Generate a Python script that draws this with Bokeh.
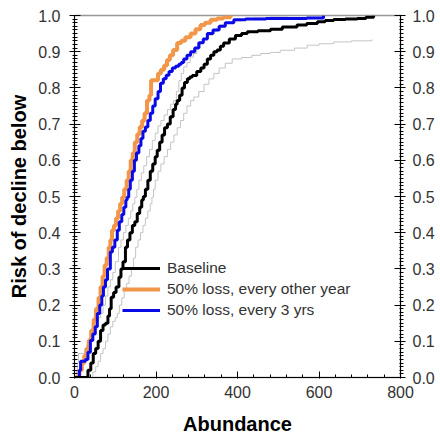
from bokeh.plotting import figure
from bokeh.models import (LinearAxis, SingleIntervalTicker, NumeralTickFormatter,
                          Legend, LegendItem, Range1d)
from bokeh.embed import file_html
from bokeh.resources import INLINE

# ---- data ----
baseline_x = [0, 27, 33, 40, 46, 52, 58, 64, 70, 76, 82, 86, 90, 96, 102, 109, 114, 119, 125, 130,
              136, 142, 148, 154, 160, 165, 169, 174, 180, 186, 192, 198, 203, 209, 215, 221, 228,
              235, 242, 248, 252, 258, 264, 270, 277, 283, 289, 300, 310, 318, 326, 334, 342, 350,
              358, 366, 380, 395, 410, 424, 450, 481, 510, 546, 570, 596, 615, 636, 665, 694, 715, 734]
baseline_y = [0, 0, 0.02, 0.04, 0.066, 0.08, 0.10, 0.13, 0.145, 0.15, 0.17, 0.19, 0.222, 0.235, 0.25,
              0.277, 0.30, 0.32, 0.36, 0.38, 0.40, 0.42, 0.43, 0.453, 0.47, 0.49, 0.50, 0.52, 0.545,
              0.57, 0.59, 0.61, 0.628, 0.65, 0.67, 0.69, 0.70, 0.72, 0.74, 0.755, 0.765, 0.78, 0.80,
              0.815, 0.825, 0.83, 0.834, 0.845, 0.855, 0.865, 0.88, 0.89, 0.90, 0.905, 0.915, 0.924,
              0.935, 0.945, 0.95, 0.955, 0.958, 0.962, 0.968, 0.974, 0.978, 0.983, 0.986, 0.989,
              0.99, 0.992, 0.995, 1.0]

orange_x = [0, 8, 12, 18, 24, 30, 35, 41, 47, 53, 59, 64, 69, 74, 79, 84, 88, 92, 97, 102, 107, 112,
            117, 122, 128, 133, 138, 143, 148, 154, 160, 166, 172, 178, 184, 188, 205, 212, 220, 227,
            234, 242, 252, 262, 272, 285, 297, 309, 320, 334, 350, 365, 383]
orange_y = [0, 0, 0.02, 0.04, 0.06, 0.08, 0.102, 0.13, 0.16, 0.19, 0.22, 0.25, 0.28, 0.31, 0.33,
            0.36, 0.38, 0.407, 0.42, 0.44, 0.46, 0.48, 0.498, 0.52, 0.545, 0.57, 0.60, 0.62, 0.65,
            0.672, 0.692, 0.71, 0.73, 0.765, 0.78, 0.821, 0.84, 0.85, 0.862, 0.877, 0.89, 0.905,
            0.924, 0.93, 0.94, 0.95, 0.962, 0.974, 0.98, 0.988, 0.992, 0.995, 1.0]

blue_x = [0, 7, 12, 15, 27, 33, 39, 45, 51, 56, 62, 67, 71, 76, 81, 88, 93, 99, 105, 110, 116, 121,
          126, 129, 133, 137, 142, 147, 152, 158, 163, 168, 174, 180, 186, 192, 198, 205, 211, 218,
          225, 232, 240, 248, 256, 262, 268, 276, 285, 295, 305, 316, 326, 340, 355, 370, 391, 420,
          470, 520, 570, 611]
blue_y = [0, 0, 0.02, 0.045, 0.05, 0.07, 0.102, 0.12, 0.14, 0.177, 0.20, 0.225, 0.25, 0.27, 0.30,
          0.347, 0.36, 0.38, 0.407, 0.43, 0.45, 0.47, 0.49, 0.498, 0.52, 0.545, 0.57, 0.60, 0.62,
          0.64, 0.66, 0.68, 0.692, 0.71, 0.73, 0.75, 0.77, 0.79, 0.813, 0.825, 0.835, 0.845, 0.855,
          0.86, 0.865, 0.87, 0.88, 0.89, 0.90, 0.91, 0.925, 0.935, 0.95, 0.96, 0.97, 0.98, 0.988,
          0.99, 0.992, 0.992, 0.993, 1.0]

upper_x = [0, 3, 5, 7, 10, 25, 30, 36, 42, 48, 54, 59, 64, 70, 76, 82, 88, 94, 100, 108, 114, 120,
           126, 132, 138, 143, 148, 153, 158, 164, 170, 177, 184, 191, 198, 205, 212, 220, 228, 236,
           243, 250, 256, 262, 268, 276, 284, 292, 300, 309, 318, 328, 338, 348, 358, 372, 390, 410,
           440, 480, 520]
upper_y = [0, 0, 0.02, 0.04, 0.066, 0.08, 0.09, 0.11, 0.125, 0.14, 0.155, 0.165, 0.177, 0.20, 0.225,
           0.25, 0.27, 0.29, 0.32, 0.36, 0.38, 0.40, 0.42, 0.44, 0.46, 0.48, 0.498, 0.52, 0.545,
           0.565, 0.585, 0.61, 0.63, 0.655, 0.675, 0.695, 0.71, 0.725, 0.74, 0.755, 0.765, 0.79,
           0.82, 0.84, 0.858, 0.87, 0.885, 0.895, 0.91, 0.924, 0.935, 0.945, 0.955, 0.965, 0.974,
           0.98, 0.985, 0.99, 0.993, 0.996, 1.0]

lower_x = [0, 39, 45, 52, 58, 64, 70, 76, 82, 88, 94, 100, 105, 110, 116, 122, 128, 134, 140, 145,
           150, 156, 162, 168, 174, 180, 186, 190, 194, 198, 205, 212, 220, 228, 236, 244, 252, 260,
           268, 276, 285, 293, 305, 318, 330, 342, 355, 370, 387, 410, 435, 457, 480, 505, 540, 571,
           600, 636, 680, 730]
lower_y = [0, 0, 0.015, 0.03, 0.045, 0.066, 0.08, 0.10, 0.12, 0.14, 0.155, 0.165, 0.177, 0.20, 0.22,
           0.24, 0.26, 0.28, 0.30, 0.33, 0.36, 0.38, 0.40, 0.42, 0.44, 0.46, 0.48, 0.498, 0.52,
           0.545, 0.57, 0.59, 0.61, 0.63, 0.65, 0.67, 0.69, 0.71, 0.73, 0.75, 0.765, 0.775, 0.79,
           0.81, 0.825, 0.84, 0.855, 0.868, 0.88, 0.884, 0.89, 0.895, 0.898, 0.904, 0.91, 0.918,
           0.922, 0.927, 0.93, 0.934]

labels = ["Baseline", "50% loss, every other year", "50% loss, every 3 yrs"]
x_ticks_interval = 200
y_ticks_interval = 0.1

FONT = "Liberation Sans"

p = figure(width=440, height=440, x_range=Range1d(0, 800), y_range=Range1d(0, 1),
           output_backend="svg", toolbar_location=None,
           min_border_left=74, min_border_right=40, min_border_top=15, min_border_bottom=63,
           x_axis_label="Abundance", y_axis_label="Risk of decline below")
p.xgrid.visible = False
p.ygrid.visible = False
p.outline_line_color = "#999999"
p.outline_line_width = 1.5
p.background_fill_color = "white"
p.border_fill_color = "white"

p.xaxis.ticker = SingleIntervalTicker(interval=x_ticks_interval, num_minor_ticks=5)
p.yaxis.ticker = SingleIntervalTicker(interval=y_ticks_interval, num_minor_ticks=10)
p.yaxis.formatter = NumeralTickFormatter(format="0.0")

right = LinearAxis(ticker=SingleIntervalTicker(interval=y_ticks_interval, num_minor_ticks=10),
                   formatter=NumeralTickFormatter(format="0.0"))
p.add_layout(right, "right")


def style(ax):
    ax.axis_line_color = "black"
    ax.axis_line_width = 1
    ax.major_tick_line_color = "black"
    ax.minor_tick_line_color = "black"
    ax.major_label_text_font = FONT
    ax.major_label_text_font_size = "16px"
    ax.major_label_text_color = "#333333"
    ax.axis_label_text_font = FONT
    ax.axis_label_text_font_style = "bold"
    ax.axis_label_text_font_size = "20px"
    ax.axis_label_text_color = "black"


for ax in list(p.xaxis) + list(p.yaxis) + [right]:
    style(ax)

for ax in p.yaxis:
    ax.major_tick_in = 6
    ax.major_tick_out = 5
    ax.minor_tick_in = 3
    ax.minor_tick_out = 2
    ax.major_label_standoff = 9
    ax.axis_label_standoff = 5

right.major_tick_in = 6
right.major_tick_out = 5
right.minor_tick_in = 1
right.minor_tick_out = 3
right.major_label_standoff = 7

for ax in p.xaxis:
    ax.major_tick_in = 6
    ax.major_tick_out = 1
    ax.minor_tick_in = 3
    ax.minor_tick_out = 0
    ax.major_label_standoff = 7
    ax.axis_label_standoff = 12

p.step(lower_x, lower_y, mode="after", line_color="#c4c4c4", line_width=1)
p.step(upper_x, upper_y, mode="after", line_color="#c4c4c4", line_width=1)
r_or = p.step(orange_x, orange_y, mode="after", line_color="#F2964A", line_width=4)
r_bl = p.step(blue_x, blue_y, mode="after", line_color="#0A0AE6", line_width=3)
r_bk = p.step(baseline_x, baseline_y, mode="after", line_color="black", line_width=3)

legend = Legend(items=[LegendItem(label=labels[0], renderers=[r_bk]),
                       LegendItem(label=labels[1], renderers=[r_or]),
                       LegendItem(label=labels[2], renderers=[r_bl])],
                location=(48, 57), orientation="vertical",
                border_line_color=None, background_fill_alpha=0,
                padding=0, margin=0, spacing=1,
                glyph_width=38, glyph_height=20, label_height=20, label_standoff=7,
                label_text_font=FONT, label_text_font_size="15.5px",
                label_text_color="#333333")
p.add_layout(legend)

open("out.html", "w").write(file_html(p, INLINE))
